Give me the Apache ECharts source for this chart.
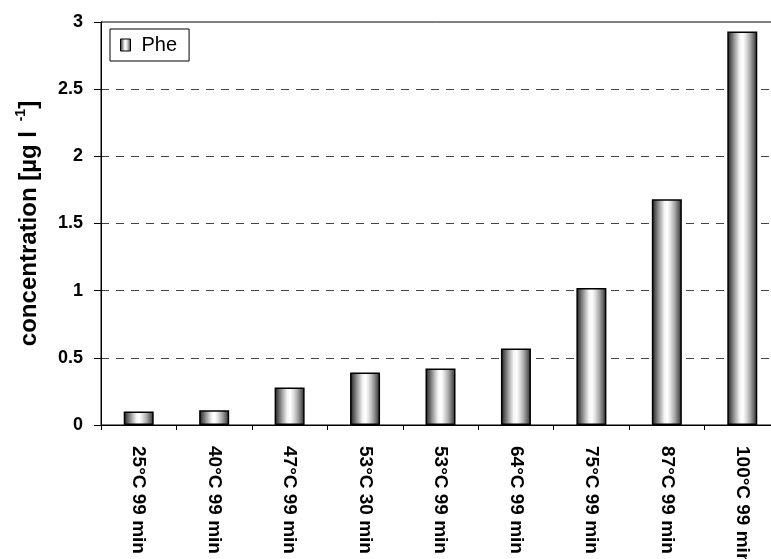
<!DOCTYPE html>
<html>
<head>
<meta charset="utf-8">
<script src="https://cdn.jsdelivr.net/npm/echarts@6/dist/echarts.min.js"></script>
<style>
html,body{margin:0;padding:0;background:#fff;}
#c{width:771px;height:559px;}
</style>
</head>
<body>
<div id="c"></div>
<script>
var categories = ['25°C 99 min','40°C 99 min','47°C 99 min','53°C 30 min','53°C 99 min','64°C 99 min','75°C 99 min','87°C 99 min','100°C 99 min'];
var pheValues = [0.10, 0.11, 0.28, 0.39, 0.42, 0.57, 1.02, 1.68, 2.93];
var seriesName = 'Phe';
var yTicks = {min: 0, max: 3, interval: 0.5};

var FONT = '"Liberation Sans", Arial, sans-serif';
var barGradient = new echarts.graphic.LinearGradient(0, 0, 1, 0, [
  {offset: 0, color: '#1a1a1a'},
  {offset: 0.1, color: '#505050'},
  {offset: 0.25, color: '#a0a0a0'},
  {offset: 0.42, color: '#f4f4f4'},
  {offset: 0.52, color: '#ffffff'},
  {offset: 0.62, color: '#e2e2e2'},
  {offset: 0.76, color: '#aaaaaa'},
  {offset: 0.9, color: '#606060'},
  {offset: 1, color: '#262626'}
]);

var chart = echarts.init(document.getElementById('c'), null, {renderer: 'canvas'});
chart.setOption({
  animation: false,
  backgroundColor: '#ffffff',
  grid: {
    left: 101, top: 22, bottom: 134, right: -9,
    outerBoundsMode: 'none',
    show: true, borderColor: '#000', borderWidth: 1, backgroundColor: 'transparent',
    containLabel: false
  },
  legend: {
    left: 110, top: 29,
    orient: 'horizontal',
    data: [{name: seriesName, icon: 'rect'}],
    backgroundColor: '#fff',
    borderColor: '#000', borderWidth: 1,
    padding: [6, 12, 6, 10],
    itemWidth: 10, itemHeight: 12,
    itemStyle: {borderColor: '#000', borderWidth: 1},
    textStyle: {fontFamily: FONT, fontSize: 20, color: '#000', padding: [0, 0, 0, 6]}
  },
  xAxis: {
    type: 'category',
    data: categories,
    boundaryGap: true,
    axisLine: {show: true, lineStyle: {color: '#000', width: 1}},
    axisTick: {show: true, length: 5, lineStyle: {color: '#000'}},
    axisLabel: {
      rotate: -90, margin: 21, interval: 0,
      fontFamily: FONT, fontSize: 19, fontWeight: 'bold', color: '#000'
    },
    splitLine: {show: false}
  },
  yAxis: {
    type: 'value',
    min: yTicks.min, max: yTicks.max, interval: yTicks.interval,
    axisLine: {show: true, lineStyle: {color: '#000', width: 1}},
    axisTick: {show: true, length: 7, lineStyle: {color: '#000'}},
    axisLabel: {margin: 18, fontFamily: FONT, fontSize: 18, fontWeight: 'bold', color: '#000'},
    splitLine: {show: true, showMaxLine: false, showMinLine: false,
      lineStyle: {color: '#444', width: 1, type: [8, 7]}},
    name: '{a|concentration [µg l }{s|-1}{a|]}',
    nameLocation: 'middle',
    nameRotate: 90,
    nameGap: 60,
    nameTextStyle: {
      rich: {
        a: {fontFamily: FONT, fontSize: 24, fontWeight: 'bold', color: '#000', lineHeight: 27, verticalAlign: 'bottom'},
        s: {fontFamily: FONT, fontSize: 14, fontWeight: 'bold', color: '#000', verticalAlign: 'top', lineHeight: 14, padding: [0, 0, 0, 3]}
      }
    }
  },
  series: [{
    name: seriesName,
    type: 'bar',
    data: pheValues,
    barWidth: 30,
    itemStyle: {color: barGradient, borderColor: '#000', borderWidth: 1.5}
  }]
});
</script>
</body>
</html>
